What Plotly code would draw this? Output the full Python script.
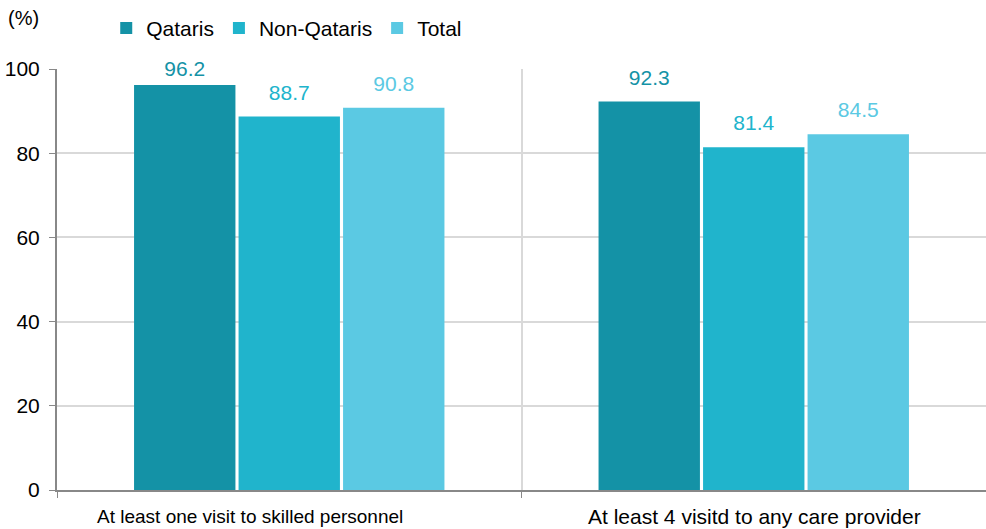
import plotly.graph_objects as go

categories = ["At least one visit to skilled personnel", "At least 4 visitd to any care provider"]
series_names = ["Qataris", "Non-Qataris", "Total"]
qataris = [96.2, 92.3]
non_qataris = [88.7, 81.4]
total = [90.8, 84.5]
colors = ["#1492A6", "#20B4CC", "#5BC9E3"]
y_ticks = [0, 20, 40, 60, 80, 100]

FONT = "Liberation Sans, Arial"
BARGAP = 0.325
fig = go.Figure()
for name, vals, col in zip(series_names, [qataris, non_qataris, total], colors):
    fig.add_trace(go.Bar(
        x=categories, y=vals, name=name, offsetgroup=name,
        marker=dict(color=col, line=dict(width=0)),
        hoverinfo="x+y+name",
    ))
# value labels, grouped like the bars (the top label is pulled down onto the 100 line)
label_pad = {"Qataris": [5, 17], "Non-Qataris": [17, 17], "Total": [17, 17]}
for name, vals, col in zip(series_names, [qataris, non_qataris, total], colors):
    fig.add_trace(go.Scatter(
        x=categories, y=vals, offsetgroup=name, mode="markers+text",
        text=[f"{v:.1f}" for v in vals], textposition="top center",
        textfont=dict(color=col, size=21, family=FONT),
        marker=dict(size=label_pad[name], color="rgba(0,0,0,0)",
                    line=dict(width=0, color="rgba(0,0,0,0)")),
        showlegend=False, hoverinfo="skip", cliponaxis=False,
    ))

fig.update_layout(
    width=986, height=529, autosize=False,
    margin=dict(l=57, r=0, t=69, b=39),
    paper_bgcolor="white", plot_bgcolor="white",
    barmode="group", bargap=BARGAP, bargroupgap=0.03,
    scattermode="group", scattergap=BARGAP,
    font=dict(family=FONT, size=19, color="#000"),
    showlegend=True,
    legend=dict(orientation="h", x=0.053, y=0.985, yref="container", yanchor="top",
                xanchor="left", font=dict(size=21), traceorder="normal",
                itemwidth=30, bgcolor="rgba(0,0,0,0)"),
)
fig.update_xaxes(
    type="category", tickson="boundaries", ticks="outside", ticklen=6, tickcolor="#888",
    showline=True, linecolor="#888", linewidth=2, showgrid=True, gridcolor="#d9d9d9",
    gridwidth=1.5, showticklabels=False,
)
fig.update_yaxes(
    range=[0, 100], tickvals=y_ticks, ticks="outside", ticklen=6, tickcolor="#888",
    showline=True, linecolor="#888", linewidth=2, showgrid=True, gridcolor="#d9d9d9",
    gridwidth=1.5, zeroline=False, tickfont=dict(size=21), ticklabelstandoff=5,
)
# category labels under the axis (first one sits left of its band in the original)
for cat, shift, size in zip(categories, [-39, 1], [19, 21]):
    fig.add_annotation(text=cat, xref="x", yref="paper", x=cat, y=0, yshift=-26,
                       xshift=shift, yanchor="middle", showarrow=False,
                       font=dict(size=size))
fig.add_annotation(text="(%)", xref="paper", yref="paper", x=-0.055, y=1.0,
                   yshift=51, xanchor="left", yanchor="middle", showarrow=False,
                   font=dict(size=20))
fig.write_html(
    "out.html",
    config={"responsive": False, "displayModeBar": False},
    post_script="document.body.style.margin='0';document.body.style.padding='0';"
                "Plotly.relayout('{plot_id}', {width: 986, height: 529});",
)
